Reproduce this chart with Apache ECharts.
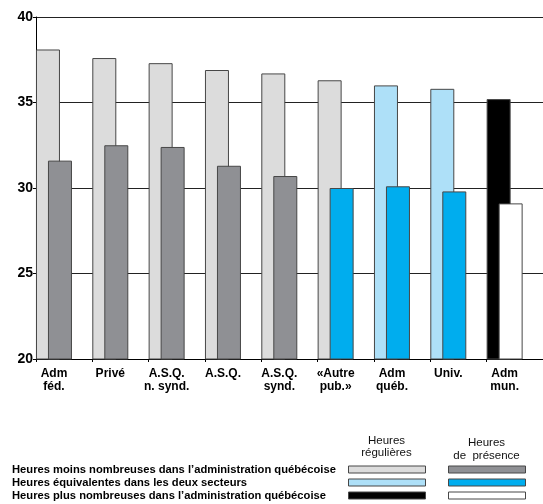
<!DOCTYPE html>
<html>
<head>
<meta charset="utf-8">
<script src="https://cdn.jsdelivr.net/npm/echarts@6/dist/echarts.min.js"></script>
<style>
  html, body { margin: 0; padding: 0; background: #fff; }
  #chart { width: 543px; height: 504px; }
</style>
</head>
<body>
<div id="chart"></div>
<script>
// Weekly hours by sector
const categories = ['Adm\nféd.', 'Privé', 'A.S.Q.\nn. synd.', 'A.S.Q.', 'A.S.Q.\nsynd.', '«Autre\npub.»', 'Adm\nquéb.', 'Univ.', 'Adm\nmun.'];
const regularHours  = [38.1, 37.6, 37.3, 36.9, 36.7, 36.3, 36.0, 35.8, 35.2];
const presenceHours = [31.6, 32.5, 32.4, 31.3, 30.7, 30.0, 30.1, 29.8, 29.1];
// comparison group of each sector for regular / presence hours: 0 = fewer, 1 = equivalent, 2 = more
const regularGroup  = [0, 0, 0, 0, 0, 0, 1, 1, 2];
const presenceGroup = [0, 0, 0, 0, 0, 1, 1, 1, 2];
const yTicks = [20, 25, 30, 35, 40];

const legendRows = [
  'Heures moins nombreuses dans l\u2019administration québécoise',
  'Heures équivalentes dans les deux secteurs',
  'Heures plus nombreuses dans l\u2019administration québécoise'
];
const legendHeads = ['Heures\nrégulières', 'Heures\nde  présence'];

const regularColors  = ['#dcdcdc', '#aee0f8', '#000000'];
const presenceColors = ['#8f9094', '#00adee', '#ffffff'];
const FONT = '"Liberation Sans", Arial, Helvetica, sans-serif';
const BORDER = '#474747';

const chart = echarts.init(document.getElementById('chart'), null, { renderer: 'canvas' });

// legend drawn as a small table below the plot
const legendGraphics = [];
const colX = [348, 448];
const colW = 77;
const rowY = [469.5, 482.5, 495.5];
legendHeads.forEach((t, c) => {
  legendGraphics.push({
    type: 'text',
    x: colX[c] + colW / 2, y: c === 0 ? 435 : 436,
    style: { text: t, font: '11.5px ' + FONT, fill: '#111', align: 'center', verticalAlign: 'top', lineHeight: c === 0 ? 12 : 13 }
  });
});
legendRows.forEach((t, r) => {
  legendGraphics.push({
    type: 'text',
    x: 12, y: rowY[r],
    style: { text: t, font: 'bold 11.2px ' + FONT, fill: '#000', align: 'left', verticalAlign: 'middle' }
  });
  [regularColors[r], presenceColors[r]].forEach((col, c) => {
    legendGraphics.push({
      type: 'rect',
      shape: { x: colX[c] + 0.5, y: rowY[r] - 3.5, width: colW, height: 7 },
      style: { fill: col, stroke: BORDER, lineWidth: 1 }
    });
  });
});

chart.setOption({
  animation: false,
  backgroundColor: '#fff',
  textStyle: { fontFamily: FONT },
  grid: [
    { left: 36, right: 0, top: 17, bottom: 145, containLabel: false },
    { left: 25.8, right: 10.2, top: 17, bottom: 145, containLabel: false }
  ],
  xAxis: [
    {
      type: 'category', gridIndex: 0, data: categories, boundaryGap: true,
      axisLine: { show: true, lineStyle: { color: '#000', width: 1 } },
      axisTick: { show: true, length: 3, lineStyle: { color: '#000' } },
      axisLabel: { show: false },
      splitLine: { show: false }
    },
    {
      type: 'category', gridIndex: 1, data: categories, boundaryGap: true,
      axisLine: { show: false }, axisTick: { show: false },
      axisLabel: {
        show: true, interval: 0, margin: 8,
        fontFamily: FONT, fontWeight: 'bold', fontSize: 12, lineHeight: 13, color: '#000'
      },
      splitLine: { show: false }
    }
  ],
  yAxis: [
    {
      type: 'value', gridIndex: 0, min: yTicks[0], max: yTicks[yTicks.length - 1], interval: 5,
      axisLine: { show: true, lineStyle: { color: '#000', width: 1 } },
      axisTick: { show: true, length: 3, lineStyle: { color: '#000' } },
      axisLabel: { margin: 3, fontFamily: FONT, fontWeight: 'bold', fontSize: 14, color: '#000' },
      splitLine: { show: true, lineStyle: { color: '#222', width: 1 } }
    },
    {
      type: 'value', gridIndex: 1, min: yTicks[0], max: yTicks[yTicks.length - 1], interval: 5,
      show: false, splitLine: { show: false }
    }
  ],
  series: [
    {
      name: 'Heures régulières', type: 'bar', xAxisIndex: 1, yAxisIndex: 1,
      data: regularHours, barWidth: 24, barGap: '-50%',
      itemStyle: {
        color: p => regularColors[regularGroup[p.dataIndex]],
        borderColor: BORDER, borderWidth: 1
      }
    },
    {
      name: 'Heures de présence', type: 'bar', xAxisIndex: 1, yAxisIndex: 1,
      data: presenceHours, barWidth: 24, barGap: '-50%',
      itemStyle: {
        color: p => presenceColors[presenceGroup[p.dataIndex]],
        borderColor: BORDER, borderWidth: 1
      }
    }
  ],
  graphic: legendGraphics
});
</script>
</body>
</html>
